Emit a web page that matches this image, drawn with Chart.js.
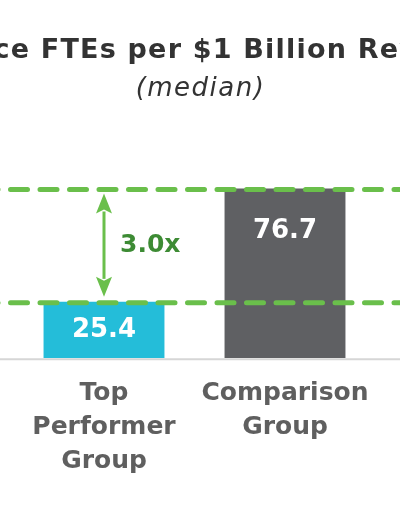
<!DOCTYPE html>
<html>
<head>
<meta charset="utf-8">
<script src="https://cdn.jsdelivr.net/npm/chart.js@4"></script>
<style>
  html, body { margin: 0; padding: 0; background: #fff; }
  #wrap { width: 400px; height: 516px; overflow: hidden; }
</style>
</head>
<body>
<div id="wrap"><canvas id="fteChart" width="400" height="516"></canvas></div>
<script>
// chart data
const categories = [["Top", "Performer", "Group"], ["Comparison", "Group"]];
const values = [25.4, 76.7];
const barColors = ["#24bdd9", "#5f6063"];
const titleText = "Finance FTEs per $1 Billion Revenue";
const subtitleText = "(median)";

const green = "#6abf4b";
const darkGreen = "#3d8b34";

// title is drawn by hand so it can run past the canvas edges like the original
const titlePlugin = {
  id: "bigTitle",
  afterDraw(chart) {
    const ctx = chart.ctx;
    ctx.save();
    ctx.fillStyle = "#333333";
    ctx.textAlign = "center";
    ctx.textBaseline = "middle";
    ctx.font = "bold 27px 'DejaVu Sans'";
    ctx.letterSpacing = "1.2px";
    ctx.fillText(titleText, 200.5, 51);
    ctx.font = "italic 26px 'DejaVu Sans'";
    ctx.letterSpacing = "1.5px";
    ctx.fillText(subtitleText, 200.5, 89);
    ctx.restore();
  }
};

// dashed reference lines, gap arrow and value labels
const overlayPlugin = {
  id: "overlay",
  afterDatasetsDraw(chart) {
    const ctx = chart.ctx;
    const y = chart.scales.y;
    const bars = chart.getDatasetMeta(0).data;
    const w = chart.width;

    // baseline
    ctx.save();
    ctx.strokeStyle = "#d6d6d6";
    ctx.lineWidth = 2;
    ctx.beginPath();
    ctx.moveTo(0, y.getPixelForValue(0) + 1.2);
    ctx.lineTo(w, y.getPixelForValue(0) + 1.2);
    ctx.stroke();

    // dashed lines at each bar's value
    ctx.strokeStyle = green;
    ctx.lineWidth = 5;
    ctx.lineCap = "round";
    ctx.setLineDash([17, 12.5]);
    values.forEach(v => {
      const py = y.getPixelForValue(v) + 1;
      ctx.beginPath();
      ctx.moveTo(-19, py);
      ctx.lineTo(w + 30, py);
      ctx.stroke();
    });
    ctx.setLineDash([]);

    // double arrow between the two lines
    const ax = bars[0].x;
    const yTop = y.getPixelForValue(values[1]) + 5;
    const yBot = y.getPixelForValue(values[0]) - 5;
    const hw = 8, hh = 20;
    ctx.strokeStyle = green;
    ctx.fillStyle = green;
    ctx.lineWidth = 3;
    ctx.lineCap = "butt";
    ctx.beginPath();
    ctx.moveTo(ax, yTop + hh - 2);
    ctx.lineTo(ax, yBot - hh + 2);
    ctx.stroke();
    ctx.beginPath();
    ctx.moveTo(ax, yTop);
    ctx.lineTo(ax + hw, yTop + hh);
    ctx.lineTo(ax, yTop + hh - 4);
    ctx.lineTo(ax - hw, yTop + hh);
    ctx.closePath();
    ctx.fill();
    ctx.beginPath();
    ctx.moveTo(ax, yBot);
    ctx.lineTo(ax + hw, yBot - hh);
    ctx.lineTo(ax, yBot - hh + 4);
    ctx.lineTo(ax - hw, yBot - hh);
    ctx.closePath();
    ctx.fill();

    // ratio text
    ctx.fillStyle = darkGreen;
    ctx.font = "bold 25px 'DejaVu Sans'";
    ctx.textAlign = "left";
    ctx.textBaseline = "middle";
    ctx.fillText((values[1] / values[0]).toFixed(1) + "x", ax + 16, (yTop + yBot) / 2);

    // value labels inside bars
    ctx.fillStyle = "#ffffff";
    ctx.font = "bold 26px 'DejaVu Sans'";
    ctx.textAlign = "center";
    bars.forEach((bar, i) => {
      const ly = Math.min((bar.y + bar.base) / 2, bar.y + 43);
      ctx.fillText(values[i].toFixed(1), bar.x, ly);
    });
    ctx.restore();
  }
};

new Chart(document.getElementById("fteChart"), {
  type: "bar",
  data: {
    labels: categories,
    datasets: [{
      data: values,
      backgroundColor: barColors,
      borderWidth: 0,
      categoryPercentage: 1,
      barPercentage: 0.668
    }]
  },
  options: {
    responsive: false,
    animation: false,
    layout: { padding: { left: 13.5, right: 24.5, top: 137, bottom: 20 } },
    plugins: {
      legend: { display: false },
      tooltip: { enabled: false }
    },
    scales: {
      x: {
        grid: { display: false, drawTicks: false },
        border: { display: false },
        ticks: {
          color: "#5f5f5f",
          padding: 18,
          font: { family: "'DejaVu Sans'", size: 25, weight: "bold", lineHeight: 1.36 }
        }
      },
      y: {
        display: false,
        min: 0,
        max: 100
      }
    }
  },
  plugins: [overlayPlugin, titlePlugin]
});
</script>
</body>
</html>
